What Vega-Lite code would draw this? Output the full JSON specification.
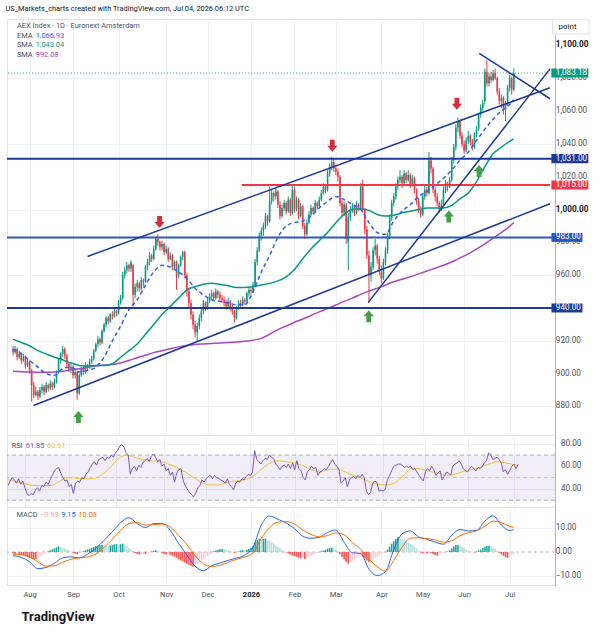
{
"$schema": "https://vega.github.io/schema/vega-lite/v6.json",
"background": "white",
"padding": {"left": 5, "top": 4, "right": 0, "bottom": 0},
"config": {"font": "Roboto", "view": {"stroke": "#e0e3eb", "strokeWidth": 1}, "title": {"font": "Roboto"}, "axis": {"labelFont": "Roboto"}},
"title": {"text": "US_Markets_charts created with TradingView.com, Jul 04, 2026 06:12 UTC", "anchor": "start", "fontSize": 7.4, "fontWeight": "normal", "color": "#131722", "offset": 5},
"datasets": {
"bars": [
{"i":0,"o":915,"h":917,"l":911,"c":913,"r":43,"hs":-0.6,"m":1},
{"i":1,"o":913,"h":917,"l":912,"c":915,"r":47,"hs":-0.8,"m":1},
{"i":2,"o":915,"h":916,"l":908,"c":910,"r":50,"hs":-0.7,"m":0},
{"i":3,"o":910,"h":914,"l":909,"c":912,"r":48,"hs":-1.0,"m":1},
{"i":4,"o":912,"h":913,"l":906,"c":908,"r":45,"hs":-1.2,"m":1},
{"i":5,"o":908,"h":912,"l":907,"c":910,"r":49,"hs":-1.5,"m":1},
{"i":6,"o":910,"h":911,"l":903,"c":905,"r":44,"hs":-1.8,"m":1},
{"i":7,"o":905,"h":909,"l":904,"c":907,"r":47,"hs":-2.1,"m":1},
{"i":8,"o":907,"h":908,"l":900,"c":902,"r":41,"hs":-2.3,"m":1},
{"i":9,"o":902,"h":903,"l":883,"c":893,"r":36,"hs":-2.6,"m":1},
{"i":10,"o":893,"h":895,"l":885,"c":887,"r":34,"hs":-2.9,"m":1},
{"i":11,"o":887,"h":892,"l":886,"c":889,"r":36,"hs":-3.0,"m":1},
{"i":12,"o":889,"h":890,"l":884,"c":886,"r":35,"hs":-2.6,"m":0},
{"i":13,"o":886,"h":892,"l":885,"c":890,"r":39,"hs":-2.0,"m":0},
{"i":14,"o":890,"h":894,"l":888,"c":892,"r":41,"hs":-1.4,"m":0},
{"i":15,"o":892,"h":893,"l":887,"c":889,"r":38,"hs":-0.8,"m":0},
{"i":16,"o":889,"h":895,"l":888,"c":893,"r":43,"hs":-0.3,"m":0},
{"i":17,"o":893,"h":894,"l":889,"c":891,"r":42,"hs":0.3,"m":1},
{"i":18,"o":891,"h":896,"l":890,"c":894,"r":46,"hs":0.7,"m":1},
{"i":19,"o":894,"h":895,"l":890,"c":892,"r":44,"hs":1.1,"m":1},
{"i":20,"o":892,"h":897,"l":891,"c":895,"r":48,"hs":1.5,"m":1},
{"i":21,"o":895,"h":902,"l":894,"c":901,"r":52,"hs":1.9,"m":1},
{"i":22,"o":901,"h":909,"l":900,"c":908,"r":56,"hs":2.3,"m":1},
{"i":23,"o":908,"h":913,"l":906,"c":912,"r":58,"hs":2.1,"m":0},
{"i":24,"o":912,"h":917,"l":910,"c":915,"r":59,"hs":1.8,"m":0},
{"i":25,"o":915,"h":916,"l":909,"c":911,"r":54,"hs":1.4,"m":0},
{"i":26,"o":911,"h":912,"l":904,"c":906,"r":50,"hs":1.0,"m":0},
{"i":27,"o":906,"h":907,"l":901,"c":903,"r":47,"hs":0.6,"m":0},
{"i":28,"o":903,"h":906,"l":900,"c":904,"r":48,"hs":0.2,"m":0},
{"i":29,"o":904,"h":905,"l":897,"c":899,"r":42,"hs":-0.3,"m":1},
{"i":30,"o":899,"h":903,"l":897,"c":901,"r":44,"hs":-0.7,"m":1},
{"i":31,"o":901,"h":902,"l":884,"c":888,"r":36,"hs":-0.9,"m":1},
{"i":32,"o":888,"h":900,"l":887,"c":899,"r":45,"hs":-0.5,"m":0},
{"i":33,"o":899,"h":904,"l":898,"c":903,"r":47,"hs":-0.1,"m":0},
{"i":34,"o":903,"h":905,"l":899,"c":901,"r":46,"hs":0.3,"m":1},
{"i":35,"o":901,"h":907,"l":900,"c":905,"r":50,"hs":0.7,"m":1},
{"i":36,"o":905,"h":906,"l":902,"c":904,"r":49,"hs":1.0,"m":1},
{"i":37,"o":904,"h":909,"l":903,"c":907,"r":53,"hs":1.4,"m":1},
{"i":38,"o":907,"h":911,"l":906,"c":909,"r":55,"hs":1.7,"m":1},
{"i":39,"o":909,"h":915,"l":908,"c":914,"r":59,"hs":2.0,"m":1},
{"i":40,"o":914,"h":919,"l":913,"c":918,"r":62,"hs":2.3,"m":1},
{"i":41,"o":918,"h":923,"l":916,"c":921,"r":64,"hs":2.6,"m":1},
{"i":42,"o":921,"h":922,"l":917,"c":919,"r":61,"hs":2.8,"m":1},
{"i":43,"o":919,"h":927,"l":918,"c":926,"r":66,"hs":3.0,"m":1},
{"i":44,"o":926,"h":931,"l":925,"c":930,"r":67,"hs":2.8,"m":0},
{"i":45,"o":930,"h":935,"l":928,"c":934,"r":68,"hs":2.6,"m":0},
{"i":46,"o":934,"h":935,"l":930,"c":932,"r":65,"hs":2.4,"m":0},
{"i":47,"o":932,"h":937,"l":931,"c":936,"r":68,"hs":2.6,"m":1},
{"i":48,"o":936,"h":938,"l":933,"c":935,"r":67,"hs":2.9,"m":1},
{"i":49,"o":935,"h":940,"l":934,"c":938,"r":70,"hs":3.1,"m":1},
{"i":50,"o":938,"h":939,"l":935,"c":937,"r":68,"hs":3.3,"m":1},
{"i":51,"o":937,"h":945,"l":936,"c":943,"r":72,"hs":3.0,"m":0},
{"i":52,"o":943,"h":948,"l":942,"c":946,"r":74,"hs":3.2,"m":1},
{"i":53,"o":946,"h":962,"l":945,"c":960,"r":78,"hs":3.4,"m":1},
{"i":54,"o":960,"h":965,"l":958,"c":963,"r":79,"hs":3.0,"m":0},
{"i":55,"o":963,"h":968,"l":961,"c":966,"r":77,"hs":2.4,"m":0},
{"i":56,"o":966,"h":967,"l":962,"c":964,"r":72,"hs":1.7,"m":0},
{"i":57,"o":964,"h":969,"l":962,"c":968,"r":70,"hs":1.0,"m":0},
{"i":58,"o":966,"h":967,"l":941,"c":948,"r":53,"hs":0.3,"m":0},
{"i":59,"o":948,"h":955,"l":946,"c":953,"r":58,"hs":-0.4,"m":1},
{"i":60,"o":953,"h":957,"l":950,"c":955,"r":60,"hs":-0.8,"m":1},
{"i":61,"o":955,"h":956,"l":950,"c":952,"r":56,"hs":-1.1,"m":1},
{"i":62,"o":952,"h":959,"l":951,"c":957,"r":61,"hs":-0.9,"m":0},
{"i":63,"o":957,"h":958,"l":953,"c":956,"r":59,"hs":-0.7,"m":0},
{"i":64,"o":956,"h":966,"l":955,"c":965,"r":63,"hs":-0.9,"m":1},
{"i":65,"o":965,"h":970,"l":963,"c":968,"r":65,"hs":-0.6,"m":0},
{"i":66,"o":968,"h":974,"l":966,"c":972,"r":67,"hs":-0.3,"m":0},
{"i":67,"o":972,"h":973,"l":968,"c":970,"r":64,"hs":0.2,"m":1},
{"i":68,"o":970,"h":978,"l":969,"c":976,"r":69,"hs":0.5,"m":1},
{"i":69,"o":976,"h":983,"l":975,"c":982,"r":71,"hs":0.7,"m":1},
{"i":70,"o":982,"h":985,"l":978,"c":980,"r":68,"hs":0.5,"m":0},
{"i":71,"o":980,"h":981,"l":975,"c":977,"r":64,"hs":0.2,"m":0},
{"i":72,"o":977,"h":981,"l":975,"c":979,"r":66,"hs":-0.4,"m":1},
{"i":73,"o":979,"h":980,"l":972,"c":974,"r":60,"hs":-0.8,"m":1},
{"i":74,"o":974,"h":978,"l":973,"c":976,"r":62,"hs":-1.0,"m":1},
{"i":75,"o":976,"h":977,"l":968,"c":970,"r":56,"hs":-0.8,"m":0},
{"i":76,"o":970,"h":974,"l":969,"c":972,"r":58,"hs":-1.1,"m":1},
{"i":77,"o":972,"h":973,"l":963,"c":965,"r":52,"hs":-1.5,"m":1},
{"i":78,"o":965,"h":969,"l":963,"c":968,"r":55,"hs":-1.9,"m":1},
{"i":79,"o":968,"h":969,"l":951,"c":960,"r":46,"hs":-2.4,"m":1},
{"i":80,"o":960,"h":967,"l":958,"c":966,"r":54,"hs":-2.9,"m":1},
{"i":81,"o":966,"h":972,"l":965,"c":971,"r":57,"hs":-3.4,"m":1},
{"i":82,"o":971,"h":975,"l":969,"c":974,"r":58,"hs":-3.8,"m":1},
{"i":83,"o":974,"h":975,"l":958,"c":960,"r":48,"hs":-4.3,"m":1},
{"i":84,"o":960,"h":961,"l":947,"c":950,"r":43,"hs":-4.8,"m":1},
{"i":85,"o":950,"h":952,"l":940,"c":943,"r":40,"hs":-5.2,"m":1},
{"i":86,"o":943,"h":945,"l":933,"c":936,"r":37,"hs":-5.6,"m":1},
{"i":87,"o":936,"h":938,"l":927,"c":930,"r":35,"hs":-6.0,"m":1},
{"i":88,"o":930,"h":932,"l":922,"c":925,"r":33,"hs":-5.5,"m":0},
{"i":89,"o":925,"h":931,"l":920,"c":929,"r":36,"hs":-4.9,"m":0},
{"i":90,"o":929,"h":936,"l":927,"c":934,"r":41,"hs":-4.2,"m":0},
{"i":91,"o":934,"h":940,"l":932,"c":938,"r":43,"hs":-3.6,"m":0},
{"i":92,"o":938,"h":945,"l":936,"c":943,"r":48,"hs":-3.0,"m":0},
{"i":93,"o":943,"h":944,"l":938,"c":940,"r":46,"hs":-2.3,"m":0},
{"i":94,"o":940,"h":946,"l":939,"c":944,"r":49,"hs":-1.6,"m":0},
{"i":95,"o":944,"h":949,"l":943,"c":947,"r":51,"hs":-0.9,"m":0},
{"i":96,"o":947,"h":951,"l":945,"c":949,"r":52,"hs":-0.3,"m":0},
{"i":97,"o":949,"h":950,"l":944,"c":946,"r":49,"hs":0.3,"m":1},
{"i":98,"o":946,"h":952,"l":945,"c":950,"r":52,"hs":0.6,"m":1},
{"i":99,"o":950,"h":951,"l":946,"c":948,"r":50,"hs":0.9,"m":1},
{"i":100,"o":948,"h":950,"l":944,"c":946,"r":49,"hs":1.1,"m":1},
{"i":101,"o":946,"h":948,"l":943,"c":945,"r":48,"hs":1.2,"m":1},
{"i":102,"o":945,"h":947,"l":941,"c":943,"r":47,"hs":1.0,"m":0},
{"i":103,"o":943,"h":945,"l":939,"c":941,"r":45,"hs":0.9,"m":0},
{"i":104,"o":941,"h":946,"l":940,"c":944,"r":49,"hs":0.7,"m":0},
{"i":105,"o":944,"h":945,"l":938,"c":940,"r":44,"hs":0.4,"m":0},
{"i":106,"o":940,"h":942,"l":936,"c":938,"r":42,"hs":0.1,"m":0},
{"i":107,"o":938,"h":939,"l":931,"c":934,"r":39,"hs":-0.4,"m":1},
{"i":108,"o":934,"h":941,"l":933,"c":940,"r":45,"hs":-0.2,"m":0},
{"i":109,"o":940,"h":945,"l":939,"c":943,"r":47,"hs":0.3,"m":1},
{"i":110,"o":943,"h":945,"l":940,"c":942,"r":46,"hs":0.6,"m":1},
{"i":111,"o":942,"h":947,"l":941,"c":945,"r":49,"hs":0.8,"m":1},
{"i":112,"o":945,"h":946,"l":942,"c":944,"r":48,"hs":0.7,"m":0},
{"i":113,"o":944,"h":950,"l":943,"c":949,"r":51,"hs":0.9,"m":1},
{"i":114,"o":949,"h":953,"l":947,"c":951,"r":53,"hs":1.2,"m":1},
{"i":115,"o":951,"h":952,"l":948,"c":950,"r":52,"hs":1.6,"m":1},
{"i":116,"o":950,"h":956,"l":949,"c":954,"r":55,"hs":2.6,"m":1},
{"i":117,"o":954,"h":970,"l":953,"c":968,"r":74,"hs":4.0,"m":1},
{"i":118,"o":968,"h":977,"l":966,"c":975,"r":66,"hs":4.8,"m":1},
{"i":119,"o":975,"h":986,"l":974,"c":984,"r":64,"hs":5.4,"m":1},
{"i":120,"o":984,"h":989,"l":981,"c":987,"r":62,"hs":5.0,"m":0},
{"i":121,"o":987,"h":992,"l":984,"c":990,"r":65,"hs":5.3,"m":1},
{"i":122,"o":990,"h":998,"l":988,"c":996,"r":67,"hs":5.5,"m":1},
{"i":123,"o":996,"h":997,"l":990,"c":993,"r":66,"hs":4.9,"m":0},
{"i":124,"o":993,"h":1014,"l":992,"c":1005,"r":70,"hs":4.6,"m":0},
{"i":125,"o":1005,"h":1012,"l":1003,"c":1010,"r":68,"hs":4.0,"m":0},
{"i":126,"o":1010,"h":1011,"l":1005,"c":1008,"r":67,"hs":3.4,"m":0},
{"i":127,"o":1008,"h":1013,"l":1006,"c":1011,"r":62,"hs":2.7,"m":0},
{"i":128,"o":1011,"h":1012,"l":1001,"c":1003,"r":60,"hs":2.0,"m":0},
{"i":129,"o":1003,"h":1005,"l":994,"c":996,"r":57,"hs":1.4,"m":0},
{"i":130,"o":996,"h":1003,"l":995,"c":1001,"r":60,"hs":0.9,"m":0},
{"i":131,"o":1001,"h":1006,"l":999,"c":1004,"r":61,"hs":0.4,"m":0},
{"i":132,"o":1004,"h":1005,"l":997,"c":999,"r":59,"hs":-0.2,"m":1},
{"i":133,"o":999,"h":1008,"l":998,"c":1006,"r":62,"hs":-0.6,"m":1},
{"i":134,"o":1006,"h":1007,"l":996,"c":998,"r":58,"hs":-1.0,"m":1},
{"i":135,"o":998,"h":1015,"l":997,"c":1012,"r":63,"hs":-1.4,"m":1},
{"i":136,"o":1012,"h":1014,"l":998,"c":1000,"r":57,"hs":-1.7,"m":1},
{"i":137,"o":1000,"h":1008,"l":999,"c":1006,"r":65,"hs":-1.9,"m":1},
{"i":138,"o":1006,"h":1007,"l":994,"c":996,"r":58,"hs":-2.3,"m":1},
{"i":139,"o":996,"h":1004,"l":995,"c":1002,"r":56,"hs":-2.6,"m":1},
{"i":140,"o":1002,"h":1003,"l":988,"c":990,"r":50,"hs":-2.5,"m":0},
{"i":141,"o":990,"h":992,"l":982,"c":985,"r":48,"hs":-2.8,"m":1},
{"i":142,"o":985,"h":994,"l":984,"c":992,"r":55,"hs":-2.4,"m":0},
{"i":143,"o":992,"h":999,"l":991,"c":997,"r":57,"hs":-2.0,"m":0},
{"i":144,"o":997,"h":1003,"l":996,"c":1001,"r":60,"hs":-1.7,"m":0},
{"i":145,"o":1001,"h":1002,"l":997,"c":999,"r":58,"hs":-1.3,"m":0},
{"i":146,"o":999,"h":1006,"l":998,"c":1004,"r":59,"hs":-0.9,"m":0},
{"i":147,"o":1004,"h":1005,"l":1000,"c":1002,"r":52,"hs":-0.5,"m":0},
{"i":148,"o":1002,"h":1008,"l":1001,"c":1006,"r":55,"hs":-0.2,"m":0},
{"i":149,"o":1006,"h":1012,"l":1005,"c":1010,"r":56,"hs":0.3,"m":1},
{"i":150,"o":1010,"h":1016,"l":1009,"c":1014,"r":58,"hs":0.6,"m":1},
{"i":151,"o":1014,"h":1015,"l":1010,"c":1012,"r":57,"hs":0.9,"m":1},
{"i":152,"o":1012,"h":1024,"l":1011,"c":1022,"r":60,"hs":1.3,"m":1},
{"i":153,"o":1022,"h":1028,"l":1020,"c":1026,"r":63,"hs":1.6,"m":1},
{"i":154,"o":1026,"h":1032,"l":1024,"c":1029,"r":66,"hs":1.8,"m":1},
{"i":155,"o":1029,"h":1031,"l":1023,"c":1025,"r":62,"hs":1.5,"m":0},
{"i":156,"o":1025,"h":1027,"l":1021,"c":1023,"r":60,"hs":1.0,"m":0},
{"i":157,"o":1023,"h":1025,"l":1017,"c":1020,"r":57,"hs":0.4,"m":0},
{"i":158,"o":1020,"h":1021,"l":1002,"c":1004,"r":45,"hs":-0.9,"m":1},
{"i":159,"o":1004,"h":1006,"l":995,"c":998,"r":47,"hs":-2.0,"m":1},
{"i":160,"o":998,"h":1005,"l":996,"c":1003,"r":50,"hs":-3.0,"m":1},
{"i":161,"o":1003,"h":1004,"l":979,"c":982,"r":42,"hs":-4.0,"m":1},
{"i":162,"o":980,"h":998,"l":963,"c":995,"r":48,"hs":-4.8,"m":1},
{"i":163,"o":995,"h":1002,"l":993,"c":1000,"r":50,"hs":-4.3,"m":0},
{"i":164,"o":1000,"h":1004,"l":998,"c":1002,"r":51,"hs":-3.6,"m":0},
{"i":165,"o":1002,"h":1003,"l":996,"c":998,"r":49,"hs":-2.9,"m":0},
{"i":166,"o":998,"h":1005,"l":997,"c":1003,"r":52,"hs":-2.1,"m":0},
{"i":167,"o":1003,"h":1004,"l":999,"c":1001,"r":50,"hs":-1.4,"m":0},
{"i":168,"o":1001,"h":1016,"l":1000,"c":1014,"r":53,"hs":-1.0,"m":0},
{"i":169,"o":1014,"h":1018,"l":998,"c":1000,"r":50,"hs":-1.8,"m":1},
{"i":170,"o":1000,"h":1001,"l":985,"c":988,"r":38,"hs":-2.7,"m":1},
{"i":171,"o":988,"h":990,"l":970,"c":972,"r":35,"hs":-3.5,"m":1},
{"i":172,"o":972,"h":975,"l":943,"c":960,"r":37,"hs":-4.2,"m":1},
{"i":173,"o":960,"h":968,"l":956,"c":965,"r":45,"hs":-3.8,"m":0},
{"i":174,"o":965,"h":977,"l":963,"c":975,"r":47,"hs":-3.2,"m":0},
{"i":175,"o":975,"h":982,"l":972,"c":978,"r":46,"hs":-2.6,"m":0},
{"i":176,"o":978,"h":979,"l":967,"c":970,"r":38,"hs":-2.1,"m":0},
{"i":177,"o":970,"h":972,"l":960,"c":962,"r":39,"hs":-1.6,"m":0},
{"i":178,"o":962,"h":966,"l":955,"c":958,"r":38,"hs":-1.2,"m":0},
{"i":179,"o":958,"h":970,"l":957,"c":968,"r":40,"hs":-0.6,"m":0},
{"i":180,"o":968,"h":977,"l":966,"c":975,"r":48,"hs":-0.1,"m":0},
{"i":181,"o":975,"h":986,"l":973,"c":984,"r":52,"hs":1.0,"m":1},
{"i":182,"o":984,"h":997,"l":982,"c":995,"r":56,"hs":2.2,"m":1},
{"i":183,"o":995,"h":1006,"l":993,"c":1004,"r":60,"hs":3.4,"m":1},
{"i":184,"o":1004,"h":1010,"l":1002,"c":1008,"r":61,"hs":4.4,"m":1},
{"i":185,"o":1008,"h":1016,"l":1006,"c":1014,"r":62,"hs":5.3,"m":1},
{"i":186,"o":1014,"h":1020,"l":1012,"c":1018,"r":62,"hs":6.0,"m":1},
{"i":187,"o":1018,"h":1024,"l":1016,"c":1020,"r":61,"hs":5.7,"m":0},
{"i":188,"o":1020,"h":1021,"l":1013,"c":1016,"r":59,"hs":5.4,"m":0},
{"i":189,"o":1016,"h":1024,"l":1015,"c":1022,"r":60,"hs":5.0,"m":0},
{"i":190,"o":1022,"h":1023,"l":1016,"c":1018,"r":59,"hs":4.5,"m":0},
{"i":191,"o":1018,"h":1024,"l":1017,"c":1021,"r":60,"hs":4.0,"m":0},
{"i":192,"o":1021,"h":1022,"l":1013,"c":1015,"r":57,"hs":3.4,"m":0},
{"i":193,"o":1015,"h":1021,"l":1014,"c":1019,"r":58,"hs":2.8,"m":0},
{"i":194,"o":1019,"h":1020,"l":1010,"c":1012,"r":55,"hs":2.1,"m":0},
{"i":195,"o":1012,"h":1013,"l":1003,"c":1005,"r":52,"hs":1.4,"m":0},
{"i":196,"o":1005,"h":1007,"l":998,"c":1000,"r":49,"hs":0.6,"m":0},
{"i":197,"o":1000,"h":1002,"l":995,"c":997,"r":47,"hs":-0.2,"m":1},
{"i":198,"o":997,"h":1010,"l":996,"c":1008,"r":55,"hs":-0.5,"m":1},
{"i":199,"o":1008,"h":1015,"l":1006,"c":1012,"r":58,"hs":-0.3,"m":0},
{"i":200,"o":1012,"h":1014,"l":1008,"c":1010,"r":56,"hs":-0.6,"m":1},
{"i":201,"o":1010,"h":1035,"l":1009,"c":1030,"r":60,"hs":-0.2,"m":0},
{"i":202,"o":1030,"h":1032,"l":1022,"c":1025,"r":57,"hs":-0.4,"m":1},
{"i":203,"o":1025,"h":1026,"l":1010,"c":1012,"r":52,"hs":-0.8,"m":1},
{"i":204,"o":1012,"h":1014,"l":1005,"c":1008,"r":54,"hs":-1.2,"m":1},
{"i":205,"o":1008,"h":1010,"l":1002,"c":1004,"r":56,"hs":-1.5,"m":1},
{"i":206,"o":1004,"h":1005,"l":998,"c":1000,"r":48,"hs":-1.3,"m":0},
{"i":207,"o":1000,"h":1006,"l":999,"c":1003,"r":51,"hs":-1.0,"m":0},
{"i":208,"o":1003,"h":1014,"l":1002,"c":1012,"r":55,"hs":-0.6,"m":0},
{"i":209,"o":1012,"h":1018,"l":1010,"c":1016,"r":54,"hs":-0.3,"m":0},
{"i":210,"o":1016,"h":1017,"l":1011,"c":1014,"r":52,"hs":0.2,"m":1},
{"i":211,"o":1014,"h":1020,"l":1013,"c":1018,"r":60,"hs":0.7,"m":1},
{"i":212,"o":1018,"h":1032,"l":1017,"c":1030,"r":62,"hs":1.4,"m":1},
{"i":213,"o":1030,"h":1040,"l":1028,"c":1038,"r":63,"hs":2.2,"m":1},
{"i":214,"o":1038,"h":1052,"l":1036,"c":1050,"r":65,"hs":2.9,"m":1},
{"i":215,"o":1050,"h":1056,"l":1047,"c":1054,"r":62,"hs":3.0,"m":1},
{"i":216,"o":1054,"h":1055,"l":1043,"c":1045,"r":58,"hs":2.6,"m":0},
{"i":217,"o":1045,"h":1047,"l":1038,"c":1040,"r":56,"hs":2.0,"m":0},
{"i":218,"o":1040,"h":1042,"l":1034,"c":1036,"r":55,"hs":1.5,"m":0},
{"i":219,"o":1036,"h":1044,"l":1035,"c":1042,"r":58,"hs":1.0,"m":0},
{"i":220,"o":1042,"h":1048,"l":1040,"c":1045,"r":60,"hs":0.7,"m":0},
{"i":221,"o":1045,"h":1046,"l":1039,"c":1041,"r":58,"hs":0.4,"m":0},
{"i":222,"o":1041,"h":1043,"l":1036,"c":1038,"r":56,"hs":0.2,"m":0},
{"i":223,"o":1038,"h":1047,"l":1037,"c":1046,"r":59,"hs":-0.2,"m":1},
{"i":224,"o":1046,"h":1051,"l":1044,"c":1049,"r":58,"hs":0.2,"m":1},
{"i":225,"o":1049,"h":1059,"l":1048,"c":1058,"r":60,"hs":0.6,"m":1},
{"i":226,"o":1058,"h":1064,"l":1056,"c":1062,"r":63,"hs":1.0,"m":1},
{"i":227,"o":1062,"h":1067,"l":1060,"c":1065,"r":65,"hs":1.6,"m":1},
{"i":228,"o":1066,"h":1086,"l":1064,"c":1084,"r":72,"hs":2.1,"m":1},
{"i":229,"o":1084,"h":1091,"l":1075,"c":1077,"r":70,"hs":2.5,"m":1},
{"i":230,"o":1077,"h":1083,"l":1075,"c":1081,"r":66,"hs":2.6,"m":1},
{"i":231,"o":1081,"h":1084,"l":1077,"c":1079,"r":67,"hs":2.3,"m":0},
{"i":232,"o":1079,"h":1085,"l":1078,"c":1083,"r":68,"hs":1.8,"m":0},
{"i":233,"o":1083,"h":1086,"l":1079,"c":1080,"r":66,"hs":1.2,"m":0},
{"i":234,"o":1080,"h":1081,"l":1070,"c":1072,"r":63,"hs":0.5,"m":0},
{"i":235,"o":1072,"h":1074,"l":1064,"c":1066,"r":55,"hs":-0.4,"m":1},
{"i":236,"o":1066,"h":1070,"l":1062,"c":1068,"r":57,"hs":-1.0,"m":1},
{"i":237,"o":1068,"h":1069,"l":1058,"c":1061,"r":53,"hs":-1.6,"m":1},
{"i":238,"o":1061,"h":1066,"l":1054,"c":1064,"r":56,"hs":-2.1,"m":1},
{"i":239,"o":1064,"h":1076,"l":1063,"c":1074,"r":60,"hs":-2.4,"m":1},
{"i":240,"o":1074,"h":1082,"l":1072,"c":1080,"r":62,"hs":-1.9,"m":0},
{"i":241,"o":1080,"h":1081,"l":1070,"c":1073,"r":58,"hs":-1.4,"m":0},
{"i":242,"o":1073,"h":1086,"l":1072,"c":1083.18,"r":61.85,"hs":-0.93,"m":0}
],
"ind": [
{"i":0,"e":915,"s50":921,"s200":901.5,"rm":48,"md":-1.5,"sg":-0.9},
{"i":4,"e":912,"s50":919,"s200":901.2,"rm":46.5,"md":-2.2,"sg":-1.1},
{"i":8,"e":908,"s50":917,"s200":901,"rm":44.5,"md":-4.0,"sg":-2.0},
{"i":12,"e":904,"s50":914,"s200":900.8,"rm":43,"md":-6.8,"sg":-4.0},
{"i":16,"e":900,"s50":912,"s200":900.8,"rm":42.8,"md":-6.3,"sg":-5.8},
{"i":20,"e":899,"s50":910,"s200":901,"rm":43,"md":-4.6,"sg":-5.6},
{"i":24,"e":903,"s50":908.5,"s200":901.5,"rm":46,"md":-2.4,"sg":-4.2},
{"i":28,"e":904,"s50":906.5,"s200":902.3,"rm":50,"md":-2.0,"sg":-3.0},
{"i":32,"e":901,"s50":905,"s200":903,"rm":49.5,"md":-2.4,"sg":-2.4},
{"i":36,"e":902,"s50":904.5,"s200":903.8,"rm":49,"md":-0.9,"sg":-2.0},
{"i":40,"e":904,"s50":905,"s200":904.7,"rm":49,"md":1.5,"sg":-0.8},
{"i":44,"e":910,"s50":905,"s200":905.2,"rm":52,"md":4.8,"sg":1.9},
{"i":48,"e":920,"s50":906,"s200":905.5,"rm":58,"md":8.2,"sg":5.2},
{"i":52,"e":929,"s50":910,"s200":906.5,"rm":66,"md":12.0,"sg":8.8},
{"i":56,"e":939,"s50":914,"s200":908,"rm":70,"md":14.0,"sg":11.6},
{"i":60,"e":945,"s50":918,"s200":909.7,"rm":68,"md":11.6,"sg":12.0},
{"i":64,"e":954,"s50":924,"s200":911.2,"rm":66,"md":10.0,"sg":11.0},
{"i":68,"e":962,"s50":930,"s200":912.8,"rm":65,"md":11.6,"sg":11.2},
{"i":72,"e":966,"s50":936,"s200":914,"rm":64.5,"md":11.7,"sg":11.4},
{"i":76,"e":965,"s50":941,"s200":915.2,"rm":62,"md":8.8,"sg":10.2},
{"i":80,"e":962,"s50":946,"s200":916.3,"rm":59,"md":3.5,"sg":6.8},
{"i":84,"e":958,"s50":951,"s200":917.2,"rm":55,"md":-1.2,"sg":3.0},
{"i":88,"e":952,"s50":953,"s200":917.8,"rm":50,"md":-5.8,"sg":-1.5},
{"i":92,"e":948,"s50":954.5,"s200":918.1,"rm":45.5,"md":-7.6,"sg":-4.8},
{"i":96,"e":945,"s50":955,"s200":918.4,"rm":43.5,"md":-5.6,"sg":-5.9},
{"i":100,"e":944,"s50":954.5,"s200":918.7,"rm":43.5,"md":-4.5,"sg":-5.4},
{"i":104,"e":943,"s50":953.5,"s200":918.9,"rm":46,"md":-3.4,"sg":-4.2},
{"i":108,"e":942,"s50":952.5,"s200":919.2,"rm":47,"md":-2.5,"sg":-3.0},
{"i":112,"e":942,"s50":952.5,"s200":919.7,"rm":48,"md":-1.3,"sg":-2.0},
{"i":116,"e":950,"s50":953,"s200":920.4,"rm":51,"md":2.0,"sg":-0.4},
{"i":120,"e":962,"s50":954,"s200":921.5,"rm":57,"md":11.0,"sg":5.6},
{"i":124,"e":972,"s50":955,"s200":924,"rm":62.5,"md":14.7,"sg":10.0},
{"i":128,"e":983,"s50":956.5,"s200":926.8,"rm":65,"md":13.4,"sg":12.2},
{"i":132,"e":990,"s50":959,"s200":929,"rm":64,"md":11.8,"sg":12.4},
{"i":136,"e":992,"s50":963.5,"s200":931.3,"rm":63,"md":9.6,"sg":11.4},
{"i":140,"e":993,"s50":970,"s200":933.3,"rm":60.5,"md":6.4,"sg":9.0},
{"i":144,"e":996,"s50":976,"s200":935.5,"rm":57,"md":5.6,"sg":7.2},
{"i":148,"e":1001,"s50":981,"s200":937.6,"rm":55,"md":6.0,"sg":6.2},
{"i":152,"e":1005,"s50":986,"s200":939.6,"rm":57,"md":8.0,"sg":6.7},
{"i":156,"e":1008,"s50":992,"s200":941.8,"rm":57.5,"md":9.0,"sg":7.8},
{"i":160,"e":1006,"s50":997,"s200":944,"rm":55,"md":4.0,"sg":7.0},
{"i":164,"e":1003,"s50":1000,"s200":946,"rm":52,"md":-0.3,"sg":3.8},
{"i":168,"e":1000,"s50":1000.5,"s200":948.3,"rm":49,"md":-0.6,"sg":1.2},
{"i":172,"e":992,"s50":999.5,"s200":950.3,"rm":46,"md":-7.0,"sg":-2.8},
{"i":176,"e":986,"s50":997,"s200":952,"rm":44,"md":-9.6,"sg":-6.0},
{"i":180,"e":985,"s50":996,"s200":954,"rm":43.5,"md":-8.0,"sg":-7.8},
{"i":184,"e":993,"s50":996.5,"s200":956,"rm":46,"md":1.0,"sg":-3.4},
{"i":188,"e":999,"s50":998,"s200":957.5,"rm":52.5,"md":7.4,"sg":1.9},
{"i":192,"e":1003,"s50":999,"s200":959,"rm":58.5,"md":8.6,"sg":5.6},
{"i":196,"e":1008,"s50":1000,"s200":960.8,"rm":57.5,"md":6.2,"sg":5.8},
{"i":200,"e":1011,"s50":1001,"s200":962.5,"rm":55.5,"md":5.2,"sg":5.5},
{"i":204,"e":1015,"s50":1001,"s200":964.2,"rm":54,"md":4.0,"sg":4.9},
{"i":208,"e":1019,"s50":1001,"s200":966,"rm":52,"md":3.2,"sg":4.0},
{"i":212,"e":1024,"s50":1002.5,"s200":968,"rm":53,"md":6.8,"sg":4.6},
{"i":216,"e":1030,"s50":1006.5,"s200":970.5,"rm":55.5,"md":9.2,"sg":6.6},
{"i":220,"e":1035,"s50":1010,"s200":973,"rm":57,"md":8.6,"sg":7.9},
{"i":224,"e":1042,"s50":1017,"s200":976,"rm":59,"md":8.8,"sg":8.6},
{"i":228,"e":1049,"s50":1026,"s200":979,"rm":62,"md":12.6,"sg":10.5},
{"i":232,"e":1055,"s50":1034,"s200":982.5,"rm":64,"md":14.8,"sg":12.6},
{"i":236,"e":1060,"s50":1038,"s200":986,"rm":63,"md":11.0,"sg":12.0},
{"i":240,"e":1064,"s50":1041.5,"s200":989.8,"rm":61.5,"md":8.8,"sg":10.5},
{"i":242,"e":1066.93,"s50":1043.04,"s200":992.08,"rm":60.61,"md":9.15,"sg":10.08}
],
"trend": [
{"i1":36.0,"p1":971.4,"i2":259.5,"p2":1074.2},
{"i1":9.9,"p1":880.6,"i2":259.5,"p2":1003.5},
{"i1":171.7,"p1":943.4,"i2":259.5,"p2":1085.7},
{"i1":225.3,"p1":1095.1,"i2":259.5,"p2":1067.5}
],
"levels": [{"p":1031,"k":"navy"},{"p":983,"k":"blue"},{"p":940,"k":"navy"}],
"arrows": [
{"i":70.8,"p":992.4,"d":"down"},{"i":154.3,"p":1038.8,"d":"down"},{"i":214.5,"p":1064.5,"d":"down"},
{"i":31.6,"p":873.6,"d":"up"},{"i":171.9,"p":934.9,"d":"up"},{"i":210.6,"p":995.8,"d":"up"},{"i":225.2,"p":1023.5,"d":"up"}
],
"badges": [{"p":1083.18,"k":"last"},{"p":1031,"k":"navy"},{"p":1015,"k":"red"},{"p":983,"k":"blue"},{"p":940,"k":"navy"}],
"pticks": [{"v":880},{"v":900},{"v":920},{"v":940},{"v":960},{"v":980},{"v":1000},{"v":1020},{"v":1040},{"v":1060},{"v":1080},{"v":1100}],
"rticks": [{"v":40},{"v":60},{"v":80}],
"mticks": [{"v":-10},{"v":0},{"v":10}],
"rsilev": [{"v":70},{"v":50},{"v":30}]
},
"spacing": 0,
"bounds": "flush",
"vconcat": [
{
"width": 548, "height": 416,
"layer": [
{"data":{"values":[{}]},"mark":{"type":"rule","color":"#089981","strokeDash":[1,2],"strokeWidth":1,"opacity":0.8},
 "encoding":{"y":{"datum":1083.18,"type":"quantitative","scale":{"domain":[862.6,1116.1],"nice":false,"zero":false},"title":null,
   "axis":{"orient":"right","title":null,"values":[880,900,920,940,960,980,1000,1020,1040,1060,1080,1100],"labels":false,"ticks":false,"domainColor":"#b2b5be","grid":true,"gridColor":"#eef1f6"}}}},
{"data":{"name":"bars"},"mark":{"type":"rule","strokeWidth":1},
 "encoding":{
  "x":{"field":"i","type":"quantitative","scale":{"domain":[-0.5,259.5],"nice":false,"zero":false},"title":null,
   "axis":{"title":null,"labels":false,"ticks":false,"domain":false,"grid":true,"gridColor":"#eef1f6","values":[8,29,51,74,94,115,136,156,178,198,218,240]}},
  "y":{"field":"l","type":"quantitative","scale":{"domain":[862.6,1116.1],"nice":false,"zero":false},"title":null},
  "y2":{"field":"h"},
  "color":{"condition":{"test":"datum.c >= datum.o","value":"#089981"},"value":"#f23645"}}},
{"data":{"name":"bars"},"mark":{"type":"bar"},
 "encoding":{
  "x":{"field":"i","type":"quantitative","scale":{"domain":[-0.5,259.5],"nice":false,"zero":false},"title":null},
  "y":{"field":"o","type":"quantitative","scale":{"domain":[862.6,1116.1],"nice":false,"zero":false},"title":null},
  "y2":{"field":"c"},
  "size":{"value":1.6},
  "color":{"condition":{"test":"datum.c >= datum.o","value":"#089981"},"value":"#f23645"}}},
{"data":{"name":"ind"},"mark":{"type":"line","color":"#ab47bc","strokeWidth":1.5,"interpolate":"monotone","clip":true},
 "encoding":{"x":{"field":"i","type":"quantitative","scale":{"domain":[-0.5,259.5],"nice":false,"zero":false},"title":null},
  "y":{"field":"s200","type":"quantitative","scale":{"domain":[862.6,1116.1],"nice":false,"zero":false},"title":null}}},
{"data":{"name":"ind"},"mark":{"type":"line","color":"#089981","strokeWidth":1.5,"interpolate":"monotone","clip":true},
 "encoding":{"x":{"field":"i","type":"quantitative","scale":{"domain":[-0.5,259.5],"nice":false,"zero":false},"title":null},
  "y":{"field":"s50","type":"quantitative","scale":{"domain":[862.6,1116.1],"nice":false,"zero":false},"title":null}}},
{"data":{"name":"ind"},"mark":{"type":"line","color":"#2962ff","strokeWidth":1.5,"strokeDash":[4,3],"interpolate":"monotone","clip":true},
 "encoding":{"x":{"field":"i","type":"quantitative","scale":{"domain":[-0.5,259.5],"nice":false,"zero":false},"title":null},
  "y":{"field":"e","type":"quantitative","scale":{"domain":[862.6,1116.1],"nice":false,"zero":false},"title":null}}},
{"data":{"name":"levels"},"mark":{"type":"rule","strokeWidth":2},
 "encoding":{"y":{"field":"p","type":"quantitative","scale":{"domain":[862.6,1116.1],"nice":false,"zero":false},"title":null},
  "color":{"condition":{"test":"datum.k === 'blue'","value":"#2a57c7"},"value":"#1c3a96"}}},
{"data":{"values":[{}]},"mark":{"type":"rule","strokeWidth":2,"color":"#f23645"},
 "encoding":{"x":{"datum":110.6,"type":"quantitative","scale":{"domain":[-0.5,259.5],"nice":false,"zero":false},"title":null},
  "x2":{"datum":259.5},
  "y":{"datum":1015,"type":"quantitative","scale":{"domain":[862.6,1116.1],"nice":false,"zero":false},"title":null}}},
{"data":{"name":"trend"},"mark":{"type":"rule","strokeWidth":1.5,"color":"#1c3a96"},
 "encoding":{"x":{"field":"i1","type":"quantitative","scale":{"domain":[-0.5,259.5],"nice":false,"zero":false},"title":null},
  "x2":{"field":"i2"},
  "y":{"field":"p1","type":"quantitative","scale":{"domain":[862.6,1116.1],"nice":false,"zero":false},"title":null},
  "y2":{"field":"p2"}}},
{"data":{"name":"arrows"},"transform":[{"filter":"datum.d === 'down'"}],
 "mark":{"type":"point","shape":"M-0.4,-1L0.4,-1L0.4,0L0.85,0L0,1L-0.85,0L-0.4,0Z","filled":true,"color":"#d12f3a","opacity":1,"size":144,"strokeWidth":0},
 "encoding":{"x":{"field":"i","type":"quantitative","scale":{"domain":[-0.5,259.5],"nice":false,"zero":false},"title":null},
  "y":{"field":"p","type":"quantitative","scale":{"domain":[862.6,1116.1],"nice":false,"zero":false},"title":null}}},
{"data":{"name":"arrows"},"transform":[{"filter":"datum.d === 'up'"}],
 "mark":{"type":"point","shape":"M-0.4,1L0.4,1L0.4,0L0.85,0L0,-1L-0.85,0L-0.4,0Z","filled":true,"color":"#43a047","opacity":1,"size":144,"strokeWidth":0},
 "encoding":{"x":{"field":"i","type":"quantitative","scale":{"domain":[-0.5,259.5],"nice":false,"zero":false},"title":null},
  "y":{"field":"p","type":"quantitative","scale":{"domain":[862.6,1116.1],"nice":false,"zero":false},"title":null}}},
{"data":{"values":[{}]},"mark":{"type":"text","text":"AEX Index · 1D · Euronext Amsterdam","align":"left","baseline":"middle","fontSize":7.4,"color":"#50535e"},
 "encoding":{"x":{"datum":1.9,"type":"quantitative","scale":{"domain":[-0.5,259.5],"nice":false,"zero":false},"title":null},"y":{"datum":1111.6,"type":"quantitative","scale":{"domain":[862.6,1116.1],"nice":false,"zero":false},"title":null}}},
{"data":{"values":[{}]},"mark":{"type":"text","text":"EMA","align":"left","baseline":"middle","fontSize":7.4,"color":"#50535e"},
 "encoding":{"x":{"datum":1.9,"type":"quantitative","scale":{"domain":[-0.5,259.5],"nice":false,"zero":false},"title":null},"y":{"datum":1105.9,"type":"quantitative","scale":{"domain":[862.6,1116.1],"nice":false,"zero":false},"title":null}}},
{"data":{"values":[{}]},"mark":{"type":"text","text":"1,066.93","align":"left","baseline":"middle","fontSize":7.4,"color":"#2962ff"},
 "encoding":{"x":{"datum":11.0,"type":"quantitative","scale":{"domain":[-0.5,259.5],"nice":false,"zero":false},"title":null},"y":{"datum":1105.9,"type":"quantitative","scale":{"domain":[862.6,1116.1],"nice":false,"zero":false},"title":null}}},
{"data":{"values":[{}]},"mark":{"type":"text","text":"SMA","align":"left","baseline":"middle","fontSize":7.4,"color":"#50535e"},
 "encoding":{"x":{"datum":1.9,"type":"quantitative","scale":{"domain":[-0.5,259.5],"nice":false,"zero":false},"title":null},"y":{"datum":1100.2,"type":"quantitative","scale":{"domain":[862.6,1116.1],"nice":false,"zero":false},"title":null}}},
{"data":{"values":[{}]},"mark":{"type":"text","text":"1,043.04","align":"left","baseline":"middle","fontSize":7.4,"color":"#089981"},
 "encoding":{"x":{"datum":11.0,"type":"quantitative","scale":{"domain":[-0.5,259.5],"nice":false,"zero":false},"title":null},"y":{"datum":1100.2,"type":"quantitative","scale":{"domain":[862.6,1116.1],"nice":false,"zero":false},"title":null}}},
{"data":{"values":[{}]},"mark":{"type":"text","text":"SMA","align":"left","baseline":"middle","fontSize":7.4,"color":"#50535e"},
 "encoding":{"x":{"datum":1.9,"type":"quantitative","scale":{"domain":[-0.5,259.5],"nice":false,"zero":false},"title":null},"y":{"datum":1094.3,"type":"quantitative","scale":{"domain":[862.6,1116.1],"nice":false,"zero":false},"title":null}}},
{"data":{"values":[{}]},"mark":{"type":"text","text":"992.08","align":"left","baseline":"middle","fontSize":7.4,"color":"#ab47bc"},
 "encoding":{"x":{"datum":11.0,"type":"quantitative","scale":{"domain":[-0.5,259.5],"nice":false,"zero":false},"title":null},"y":{"datum":1094.3,"type":"quantitative","scale":{"domain":[862.6,1116.1],"nice":false,"zero":false},"title":null}}},
{"data":{"name":"pticks"},"transform":[{"filter":"datum.v !== 1000 && datum.v !== 1100"}],"mark":{"type":"text","align":"left","baseline":"middle","fontSize":8.2,"color":"#50535e"},
 "encoding":{"x":{"datum":262.3,"type":"quantitative","scale":{"domain":[-0.5,259.5],"nice":false,"zero":false},"title":null},
  "y":{"field":"v","type":"quantitative","scale":{"domain":[862.6,1116.1],"nice":false,"zero":false},"title":null},
  "text":{"field":"v","type":"quantitative","format":",.2f"}}},
{"data":{"name":"pticks"},"transform":[{"filter":"datum.v === 1000 || datum.v === 1100"}],"mark":{"type":"text","align":"left","baseline":"middle","fontSize":8.2,"fontWeight":"bold","color":"#131722"},
 "encoding":{"x":{"datum":262.3,"type":"quantitative","scale":{"domain":[-0.5,259.5],"nice":false,"zero":false},"title":null},
  "y":{"field":"v","type":"quantitative","scale":{"domain":[862.6,1116.1],"nice":false,"zero":false},"title":null},
  "text":{"field":"v","type":"quantitative","format":",.2f"}}},
{"data":{"name":"badges"},"transform":[{"filter":"datum.p >= 1000"}],
 "mark":{"type":"point","shape":"M-1,-0.245L1,-0.245L1,0.245L-1,0.245Z","filled":true,"opacity":1,"size":1369,"strokeWidth":0},
 "encoding":{"x":{"datum":269.1,"type":"quantitative","scale":{"domain":[-0.5,259.5],"nice":false,"zero":false},"title":null},
  "y":{"field":"p","type":"quantitative","scale":{"domain":[862.6,1116.1],"nice":false,"zero":false},"title":null},
  "color":{"condition":[{"test":"datum.k === 'last'","value":"#089981"},{"test":"datum.k === 'red'","value":"#f23645"},{"test":"datum.k === 'blue'","value":"#2a57c7"}],"value":"#1c3a96"}}},
{"data":{"name":"badges"},"transform":[{"filter":"datum.p < 1000"}],
 "mark":{"type":"point","shape":"M-1,-0.29L1,-0.29L1,0.29L-1,0.29Z","filled":true,"opacity":1,"size":961,"strokeWidth":0},
 "encoding":{"x":{"datum":267.7,"type":"quantitative","scale":{"domain":[-0.5,259.5],"nice":false,"zero":false},"title":null},
  "y":{"field":"p","type":"quantitative","scale":{"domain":[862.6,1116.1],"nice":false,"zero":false},"title":null},
  "color":{"condition":[{"test":"datum.k === 'last'","value":"#089981"},{"test":"datum.k === 'red'","value":"#f23645"},{"test":"datum.k === 'blue'","value":"#2a57c7"}],"value":"#1c3a96"}}},
{"data":{"name":"badges"},"mark":{"type":"text","align":"left","baseline":"middle","fontSize":8.2,"color":"white"},
 "encoding":{"x":{"datum":262.3,"type":"quantitative","scale":{"domain":[-0.5,259.5],"nice":false,"zero":false},"title":null},
  "y":{"field":"p","type":"quantitative","scale":{"domain":[862.6,1116.1],"nice":false,"zero":false},"title":null},
  "text":{"field":"p","type":"quantitative","format":",.2f"}}},
{"data":{"values":[{}]},"mark":{"type":"point","shape":"M-1,-0.39L1,-0.39L1,0.39L-1,0.39Z","filled":false,"fill":"white","stroke":"#e0e3eb","strokeWidth":1,"opacity":1,"size":1347},
 "encoding":{"x":{"datum":269.6,"type":"quantitative","scale":{"domain":[-0.5,259.5],"nice":false,"zero":false},"title":null},"y":{"datum":1111.3,"type":"quantitative","scale":{"domain":[862.6,1116.1],"nice":false,"zero":false},"title":null}}},
{"data":{"values":[{}]},"mark":{"type":"text","text":"point","align":"left","baseline":"middle","fontSize":8,"color":"#131722"},
 "encoding":{"x":{"datum":263.6,"type":"quantitative","scale":{"domain":[-0.5,259.5],"nice":false,"zero":false},"title":null},"y":{"datum":1111.3,"type":"quantitative","scale":{"domain":[862.6,1116.1],"nice":false,"zero":false},"title":null}}}
]
},
{
"width": 548, "height": 72,
"layer": [
{"data":{"values":[{}]},"mark":{"type":"rect","color":"#7e57c2","opacity":0.1},
 "encoding":{"y":{"datum":70,"type":"quantitative","scale":{"domain":[24,87.7],"nice":false,"zero":false},"title":null,
   "axis":{"orient":"right","title":null,"values":[40,60,80],"labels":false,"ticks":false,"domainColor":"#b2b5be","grid":true,"gridColor":"#eef1f6"}},
  "y2":{"datum":30}}},
{"data":{"name":"rsilev"},"mark":{"type":"rule","color":"#787b86","strokeDash":[4,3],"strokeWidth":1},
 "encoding":{"y":{"field":"v","type":"quantitative","scale":{"domain":[24,87.7],"nice":false,"zero":false},"title":null},
  "opacity":{"condition":{"test":"datum.v === 50","value":0.35},"value":0.6}}},
{"data":{"name":"ind"},"mark":{"type":"line","color":"#f2c330","strokeWidth":1,"interpolate":"monotone"},
 "encoding":{"x":{"field":"i","type":"quantitative","scale":{"domain":[-0.5,259.5],"nice":false,"zero":false},"title":null},
  "y":{"field":"rm","type":"quantitative","scale":{"domain":[24,87.7],"nice":false,"zero":false},"title":null}}},
{"data":{"name":"bars"},"mark":{"type":"line","color":"#7e57c2","strokeWidth":1},
 "encoding":{"x":{"field":"i","type":"quantitative","scale":{"domain":[-0.5,259.5],"nice":false,"zero":false},"title":null,
   "axis":{"title":null,"labels":false,"ticks":false,"domain":false,"grid":true,"gridColor":"#eef1f6","values":[8,29,51,74,94,115,136,156,178,198,218,240]}},
  "y":{"field":"r","type":"quantitative","scale":{"domain":[24,87.7],"nice":false,"zero":false},"title":null}}},
{"data":{"name":"rticks"},"mark":{"type":"text","align":"left","baseline":"middle","fontSize":8.2,"color":"#50535e"},
 "encoding":{"x":{"datum":262.3,"type":"quantitative","scale":{"domain":[-0.5,259.5],"nice":false,"zero":false},"title":null},
  "y":{"field":"v","type":"quantitative","scale":{"domain":[24,87.7],"nice":false,"zero":false},"title":null},
  "text":{"field":"v","type":"quantitative","format":".2f"}}},
{"data":{"values":[{}]},"mark":{"type":"text","text":"RSI","align":"left","baseline":"middle","fontSize":7.4,"color":"#50535e"},
 "encoding":{"x":{"datum":1.7,"type":"quantitative","scale":{"domain":[-0.5,259.5],"nice":false,"zero":false},"title":null},"y":{"datum":78.3,"type":"quantitative","scale":{"domain":[24,87.7],"nice":false,"zero":false},"title":null}}},
{"data":{"values":[{}]},"mark":{"type":"text","text":"61.85","align":"left","baseline":"middle","fontSize":7.4,"color":"#7e57c2"},
 "encoding":{"x":{"datum":8.4,"type":"quantitative","scale":{"domain":[-0.5,259.5],"nice":false,"zero":false},"title":null},"y":{"datum":78.3,"type":"quantitative","scale":{"domain":[24,87.7],"nice":false,"zero":false},"title":null}}},
{"data":{"values":[{}]},"mark":{"type":"text","text":"60.61","align":"left","baseline":"middle","fontSize":7.4,"color":"#f2c330"},
 "encoding":{"x":{"datum":18.5,"type":"quantitative","scale":{"domain":[-0.5,259.5],"nice":false,"zero":false},"title":null},"y":{"datum":78.3,"type":"quantitative","scale":{"domain":[24,87.7],"nice":false,"zero":false},"title":null}}}
]
},
{
"width": 548, "height": 78,
"title": {"text": "TradingView", "orient": "bottom", "anchor": "start", "fontSize": 13, "fontWeight": "bold", "color": "#131722", "offset": 13, "dx": 15},
"layer": [
{"data":{"values":[{}]},"mark":{"type":"rule","color":"#b2b5be","strokeDash":[3,3],"strokeWidth":1},
 "encoding":{"y":{"datum":0,"type":"quantitative","scale":{"domain":[-13.47,18.37],"nice":false,"zero":false},"title":null,
   "axis":{"orient":"right","title":null,"values":[-10,0,10],"labels":false,"ticks":false,"domainColor":"#b2b5be","grid":true,"gridColor":"#eef1f6"}}}},
{"data":{"name":"bars"},"mark":{"type":"bar"},
 "encoding":{"x":{"field":"i","type":"quantitative","scale":{"domain":[-0.5,259.5],"nice":false,"zero":false},"title":null,
   "axis":{"title":null,"ticks":false,"domain":false,"grid":true,"gridColor":"#eef1f6","values":[8,29,51,74,94,115,136,156,178,198,218,240],
    "labelExpr":"['Aug','Sep','Oct','Nov','Dec','2026','Feb','Mar','Apr','May','Jun','Jul'][indexof([8,29,51,74,94,115,136,156,178,198,218,240], datum.value)]",
    "labelFontSize":7.6,"labelPadding":5,"labelOverlap":false,
    "labelColor":{"condition":{"test":"datum.value === 115","value":"#131722"},"value":"#50535e"},
    "labelFontWeight":{"condition":{"test":"datum.value === 115","value":"bold"},"value":"normal"}}},
  "y":{"field":"hs","type":"quantitative","scale":{"domain":[-13.47,18.37],"nice":false,"zero":false},"title":null},
  "y2":{"datum":0},
  "size":{"value":1.6},
  "color":{"condition":[{"test":"datum.hs >= 0 && datum.m === 1","value":"#26a69a"},{"test":"datum.hs >= 0","value":"#b2dfdb"},{"test":"datum.m === 1","value":"#ff5252"}],"value":"#ffcdd2"}}},
{"data":{"name":"ind"},"mark":{"type":"line","color":"#2962ff","strokeWidth":1,"interpolate":"monotone"},
 "encoding":{"x":{"field":"i","type":"quantitative","scale":{"domain":[-0.5,259.5],"nice":false,"zero":false},"title":null},
  "y":{"field":"md","type":"quantitative","scale":{"domain":[-13.47,18.37],"nice":false,"zero":false},"title":null}}},
{"data":{"name":"ind"},"mark":{"type":"line","color":"#ff6d00","strokeWidth":1,"interpolate":"monotone"},
 "encoding":{"x":{"field":"i","type":"quantitative","scale":{"domain":[-0.5,259.5],"nice":false,"zero":false},"title":null},
  "y":{"field":"sg","type":"quantitative","scale":{"domain":[-13.47,18.37],"nice":false,"zero":false},"title":null}}},
{"data":{"name":"mticks"},"mark":{"type":"text","align":"left","baseline":"middle","fontSize":8.2,"color":"#50535e"},
 "encoding":{"x":{"datum":262.3,"type":"quantitative","scale":{"domain":[-0.5,259.5],"nice":false,"zero":false},"title":null},
  "y":{"field":"v","type":"quantitative","scale":{"domain":[-13.47,18.37],"nice":false,"zero":false},"title":null},
  "text":{"field":"v","type":"quantitative","format":".2f"}}},
{"data":{"values":[{}]},"mark":{"type":"text","text":"MACD","align":"left","baseline":"middle","fontSize":7.4,"color":"#50535e"},
 "encoding":{"x":{"datum":1.7,"type":"quantitative","scale":{"domain":[-0.5,259.5],"nice":false,"zero":false},"title":null},"y":{"datum":15,"type":"quantitative","scale":{"domain":[-13.47,18.37],"nice":false,"zero":false},"title":null}}},
{"data":{"values":[{}]},"mark":{"type":"text","text":"−0.93","align":"left","baseline":"middle","fontSize":7.4,"color":"#f7a8b0"},
 "encoding":{"x":{"datum":13.1,"type":"quantitative","scale":{"domain":[-0.5,259.5],"nice":false,"zero":false},"title":null},"y":{"datum":15,"type":"quantitative","scale":{"domain":[-13.47,18.37],"nice":false,"zero":false},"title":null}}},
{"data":{"values":[{}]},"mark":{"type":"text","text":"9.15","align":"left","baseline":"middle","fontSize":7.4,"color":"#2962ff"},
 "encoding":{"x":{"datum":23.3,"type":"quantitative","scale":{"domain":[-0.5,259.5],"nice":false,"zero":false},"title":null},"y":{"datum":15,"type":"quantitative","scale":{"domain":[-13.47,18.37],"nice":false,"zero":false},"title":null}}},
{"data":{"values":[{}]},"mark":{"type":"text","text":"10.08","align":"left","baseline":"middle","fontSize":7.4,"color":"#ff6d00"},
 "encoding":{"x":{"datum":31.6,"type":"quantitative","scale":{"domain":[-0.5,259.5],"nice":false,"zero":false},"title":null},"y":{"datum":15,"type":"quantitative","scale":{"domain":[-13.47,18.37],"nice":false,"zero":false},"title":null}}}
]
}
]
}
